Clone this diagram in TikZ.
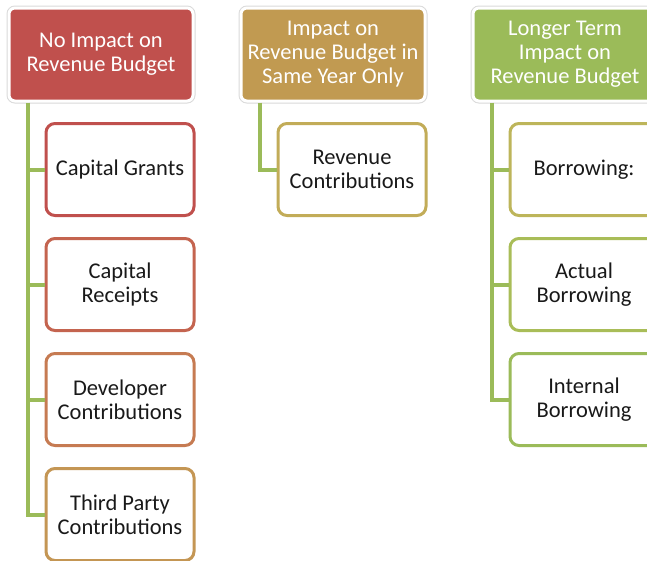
\documentclass[tikz,border=0pt]{standalone}
\usepackage{fontspec}
\setmainfont{Carlito}
\usetikzlibrary{positioning}
\definecolor{hRed}{HTML}{C0504D}
\definecolor{hGold}{HTML}{C19A51}
\definecolor{hGreen}{HTML}{9BBB59}
\definecolor{cA}{HTML}{C0504D}
\definecolor{cB}{HTML}{C4644F}
\definecolor{cC}{HTML}{C67B52}
\definecolor{cD}{HTML}{C49654}
\definecolor{cE}{HTML}{C2AC58}
\definecolor{cF}{HTML}{BDB55A}
\definecolor{cG}{HTML}{A9BD58}
\definecolor{cH}{HTML}{9BBB59}
\begin{document}
\begin{tikzpicture}[x=1pt,y=1pt,node distance=115pt]
\tikzstyle{header}=[rectangle,rounded corners=6pt,minimum width=184pt,minimum height=93pt,draw=white,line width=3pt,preaction={draw=black!15,line width=5pt},text=white,align=center,font=\fontsize{22.5}{24}\selectfont]
\tikzstyle{item}=[rectangle,rounded corners=9pt,minimum width=148pt,minimum height=92pt,fill=white,line width=3pt,text=black!90,align=center,font=\fontsize{22.5}{24}\selectfont]
\tikzstyle{link}=[draw=hGreen,line width=4pt]

\clip (0,0) rectangle (647,-560);
\useasboundingbox (0,0) rectangle (647,-560);

\node [header,fill=hRed] (H1) at (101,-54.5) {No Impact on\\Revenue Budget};
\node [header,fill=hGold,right of=H1,node distance=232pt] (H2) {Impact on\\Revenue Budget in\\Same Year Only};
\node [header,fill=hGreen,right of=H2,node distance=232pt] (H3) {Longer Term\\Impact on\\Revenue Budget};

\node [item,draw=cA,below of=H1,xshift=19pt] (A) {Capital Grants};
\node [item,draw=cB,below of=A] (B) {Capital\\Receipts};
\node [item,draw=cC,below of=B] (C) {Developer\\Contributions};
\node [item,draw=cD,below of=C] (D) {Third Party\\Contributions};

\node [item,draw=cE,below of=H2,xshift=19pt] (E) {Revenue\\Contributions};

\node [item,draw=cF,below of=H3,xshift=19pt] (F) {Borrowing:};
\node [item,draw=cG,below of=F] (G) {Actual\\Borrowing};
\node [item,draw=cH,below of=G] (K) {Internal\\Borrowing};

\coordinate (T1) at ([xshift=20pt]H1.south west);
\coordinate (T2) at ([xshift=20pt]H2.south west);
\coordinate (T3) at ([xshift=20pt]H3.south west);

\draw[link] (T1) |- (A.west) (T1) |- (B.west) (T1) |- (C.west) (T1) |- (D.west);
\draw[link] (T2) |- (E.west);
\draw[link] (T3) |- (F.west) (T3) |- (G.west) (T3) |- (K.west);
\end{tikzpicture}
\end{document}
